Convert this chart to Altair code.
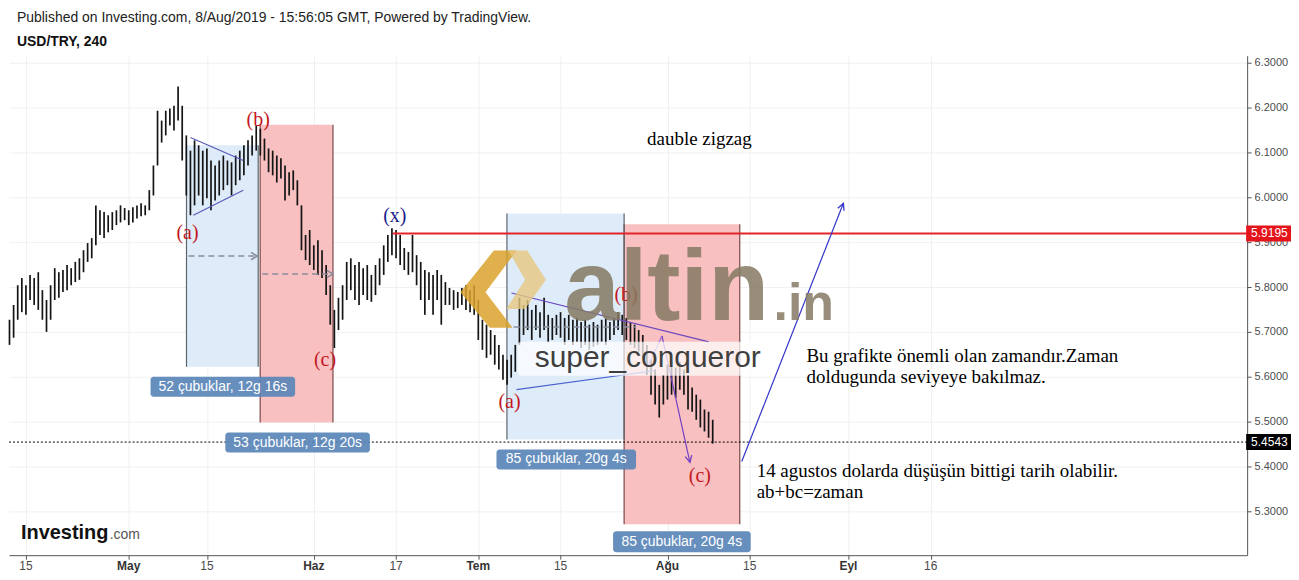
import math
import altair as alt
import pandas as pd

W, H = 1242, 501
X_DOMAIN = [-2.06, 148.48]
Y_DOMAIN = [5.2022, 6.3156]

# ---- price series (half-day sessions, trading-day axis) ----
first_session_day = -2.0
session_step = 0.5
bar_high = [5.727, 5.760, 5.804, 5.820, 5.804, 5.827, 5.820, 5.833, 5.793, 5.771,
            5.804, 5.842, 5.833, 5.838, 5.849, 5.842, 5.856, 5.864, 5.882, 5.898,
            5.909, 5.982, 5.971, 5.967, 5.960, 5.967, 5.971, 5.982, 5.976, 5.971,
            5.978, 5.982, 5.987, 5.982, 6.016, 6.071, 6.193, 6.171, 6.193, 6.198,
            6.204, 6.247, 6.204, 6.138, 6.104, 6.127, 6.116, 6.104, 6.109, 6.082,
            6.071, 6.082, 6.093, 6.082, 6.078, 6.093, 6.104, 6.116, 6.127, 6.138,
            6.160, 6.153, 6.131, 6.109, 6.104, 6.093, 6.087, 6.071, 6.056, 6.060,
            6.038, 5.982, 5.916, 5.927, 5.893, 5.904, 5.882, 5.849, 5.804, 5.749,
            5.776, 5.804, 5.856, 5.864, 5.849, 5.856, 5.842, 5.849, 5.827, 5.849,
            5.864, 5.893, 5.916, 5.931, 5.927, 5.916, 5.887, 5.878, 5.916, 5.871,
            5.856, 5.838, 5.833, 5.827, 5.838, 5.827, 5.811, 5.798, 5.793, 5.789,
            5.798, 5.804, 5.793, 5.804, 5.771, 5.727, 5.716, 5.704, 5.693, 5.671,
            5.649, 5.638, 5.649, 5.671, 5.776, 5.760, 5.771, 5.749, 5.760, 5.744,
            5.776, 5.738, 5.731, 5.738, 5.744, 5.731, 5.738, 5.727, 5.731, 5.722,
            5.727, 5.716, 5.722, 5.716, 5.727, 5.731, 5.722, 5.731, 5.744, 5.738,
            5.731, 5.722, 5.716, 5.704, 5.693, 5.671, 5.638, 5.616, 5.582, 5.604,
            5.627, 5.633, 5.620, 5.633, 5.616, 5.604, 5.576, 5.560, 5.549, 5.527,
            5.522, 5.504]
bar_low = [5.671, 5.687, 5.727, 5.744, 5.738, 5.771, 5.760, 5.749, 5.727, 5.700,
           5.727, 5.771, 5.776, 5.789, 5.793, 5.804, 5.811, 5.816, 5.833, 5.856,
           5.864, 5.893, 5.916, 5.909, 5.922, 5.927, 5.938, 5.944, 5.949, 5.938,
           5.944, 5.953, 5.958, 5.960, 5.971, 6.004, 6.071, 6.122, 6.138, 6.160,
           6.149, 6.171, 6.082, 6.004, 5.960, 5.982, 6.004, 5.982, 5.998, 5.971,
           5.993, 6.004, 6.016, 6.027, 6.004, 6.027, 6.038, 6.049, 6.071, 6.093,
           6.104, 6.093, 6.082, 6.056, 6.049, 6.033, 6.042, 5.993, 6.004, 6.016,
           5.982, 5.882, 5.860, 5.849, 5.838, 5.827, 5.820, 5.782, 5.716, 5.664,
           5.704, 5.727, 5.771, 5.793, 5.771, 5.760, 5.782, 5.771, 5.767, 5.782,
           5.804, 5.827, 5.856, 5.871, 5.864, 5.849, 5.838, 5.827, 5.833, 5.804,
           5.771, 5.738, 5.771, 5.738, 5.771, 5.716, 5.760, 5.760, 5.749, 5.753,
           5.760, 5.749, 5.744, 5.738, 5.682, 5.660, 5.642, 5.649, 5.627, 5.616,
           5.593, 5.582, 5.598, 5.611, 5.671, 5.693, 5.704, 5.682, 5.704, 5.687,
           5.704, 5.678, 5.682, 5.693, 5.687, 5.671, 5.682, 5.671, 5.678, 5.664,
           5.671, 5.660, 5.667, 5.671, 5.678, 5.671, 5.682, 5.693, 5.704, 5.693,
           5.682, 5.671, 5.664, 5.656, 5.642, 5.604, 5.560, 5.538, 5.509, 5.538,
           5.549, 5.560, 5.553, 5.571, 5.560, 5.527, 5.522, 5.504, 5.487, 5.478,
           5.464, 5.451]

# ---- axes ----
x_tick_days = [0, 12.5, 22, 35, 45, 55, 65, 78, 88, 100, 110]
x_tick_labels = ["15", "May", "15", "Haz", "17", "Tem", "15", "Ağu", "15", "Eyl", "16"]
x_tick_bold = [False, True, False, True, False, True, False, True, False, True, False]
y_tick_values = [5.3, 5.4, 5.5, 5.6, 5.7, 5.8, 5.9, 6.0, 6.1, 6.2, 6.3]

# ---- time zones (date ranges) ----
zone_x1 = [19.52, 28.48, 58.48, 72.73]
zone_x2 = [28.24, 37.33, 72.73, 86.79]
zone_lo = [5.622, 5.498, 5.460, 5.271]
zone_hi = [6.116, 6.162, 5.964, 5.940]
zone_fill = ["#dcebfa", "#f8bdbd", "#dcebfa", "#f8bdbd"]
zone_edge = ["#5d646c", "#7a4a4a", "#5d646c", "#7a4a4a"]

count_text = ["52 çubuklar, 12g 16s", "53 çubuklar, 12g 20s",
              "85 çubuklar, 20g 4s", "85 çubuklar, 20g 4s"]
count_x1 = [15.15, 24.24, 57.21, 71.39]
count_x2 = [32.73, 41.82, 74.18, 88.12]
count_hi = [5.600, 5.4756, 5.4378, 5.2556]
count_lo = [5.5556, 5.4311, 5.3933, 5.2089]

measure_x1 = [19.76, 28.73, 59.3]
measure_x2 = [28.12, 37.33, 74.2]
measure_y = [5.869, 5.829, 5.711]
measure_head = [True, True, False]

# ---- drawn lines ----
trend_x1 = [20.0, 20.36, 59.03, 59.64, 75.5, 77.33, 87.03]
trend_y1 = [6.1333, 5.960, 5.7867, 5.5711, 5.620, 5.691, 5.411]
trend_x2 = [26.42, 26.42, 83.03, 76.36, 77.33, 80.73, 99.39]
trend_y2 = [6.0822, 6.0156, 5.6778, 5.6133, 5.691, 5.409, 5.9867]
trend_color = ["#5a5ab8", "#5a5ab8", "#6a48c0", "#4a62cc", "#9a70d8", "#7440c4", "#3434c8"]
trend_head = [False, False, False, False, False, True, True]

level_price = 5.9195
level_start = 44.6
last_price = 5.4543

wave_text = ["(a)", "(b)", "(c)", "(x)", "(a)", "(b)", "(c)"]
wave_x = [19.64, 28.24, 36.36, 44.85, 58.79, 72.97, 81.94]
wave_y = [5.920, 6.173, 5.638, 5.958, 5.544, 5.782, 5.378]
wave_color = ["#c3161e", "#c3161e", "#c3161e", "#1c1c8c", "#c3161e", "#c3161e", "#c3161e"]

note_text = ["dauble zigzag",
             "Bu grafikte önemli olan zamandır.Zaman",
             "doldugunda seviyeye bakılmaz.",
             "14 agustos dolarda düşüşün bittigi tarih olabilir.",
             "ab+bc=zaman"]
note_x = [75.52, 94.9, 94.9, 88.85, 88.85]
note_y = [6.131, 5.6467, 5.600, 5.389, 5.342]

logo_x, logo_y = 57.9, 5.793
brand_x, brand_suffix_x, brand_y = 65.45, 90.9, 5.7267
author_x1, author_x2, author_lo, author_hi = 59.76, 90.9, 5.6022, 5.6778
author_tx, author_ty = 75.6, 5.642

header_line1 = "Published on Investing.com, 8/Aug/2019 - 15:56:05 GMT, Powered by TradingView."
header_line2 = "USD/TRY, 240"

SANS = "Liberation Sans"
SERIF = "Liberation Serif"

xs = alt.Scale(domain=X_DOMAIN, nice=False, zero=False)
ys = alt.Scale(domain=Y_DOMAIN, nice=False, zero=False)
PX_PER_DAY = W / (X_DOMAIN[1] - X_DOMAIN[0])
PX_PER_UNIT = H / (Y_DOMAIN[1] - Y_DOMAIN[0])

X_AXIS = alt.Axis(values=x_tick_days, labels=False, ticks=True, tickSize=4,
                  tickColor="#555", domainColor="#555", grid=True,
                  gridColor="#f0f0f0", orient="bottom", title=None)
Y_AXIS = alt.Axis(values=y_tick_values, format=".4f", orient="right",
                  labelFont=SANS, labelFontSize=11, labelColor="#4d4d4d",
                  tickSize=4, tickColor="#555", domainColor="#555",
                  grid=True, gridColor="#f0f0f0", labelPadding=3, title=None)


def X(field, **kw):
    return alt.X(field, scale=xs, axis=X_AXIS, title=None, **kw)


def Y(field, **kw):
    return alt.Y(field, scale=ys, axis=Y_AXIS, title=None, **kw)


# data frames
bars = pd.DataFrame({
    "day": [first_session_day + session_step * i for i in range(len(bar_high))],
    "hi": bar_high, "lo": bar_low})

zones = pd.DataFrame({"x1": zone_x1, "x2": zone_x2, "lo": zone_lo, "hi": zone_hi,
                      "fill": zone_fill, "edge": zone_edge})
edges = pd.DataFrame({"x": zone_x1 + zone_x2, "lo": zone_lo + zone_lo,
                      "hi": zone_hi + zone_hi, "edge": zone_edge + zone_edge})
counts = pd.DataFrame({"x1": count_x1, "x2": count_x2, "lo": count_lo, "hi": count_hi,
                       "t": count_text,
                       "xm": [(a + b) / 2 for a, b in zip(count_x1, count_x2)],
                       "ym": [(a + b) / 2 for a, b in zip(count_lo, count_hi)]})
measures = pd.DataFrame({"x1": measure_x1, "x2": measure_x2, "y": measure_y, "head": measure_head})
trends = pd.DataFrame({"x1": trend_x1, "y1": trend_y1, "x2": trend_x2, "y2": trend_y2,
                       "c": trend_color, "head": trend_head})
heads = trends[trends["head"]].copy()
heads["ang"] = [math.degrees(math.atan2((r.x2 - r.x1) * PX_PER_DAY, (r.y2 - r.y1) * PX_PER_UNIT))
                for r in heads.itertuples()]
mheads = measures[measures["head"]].copy()
mheads["ang"] = 90.0

waves = pd.DataFrame({"t": wave_text, "x": wave_x, "y": wave_y, "c": wave_color})
notes = pd.DataFrame({"t": note_text, "x": note_x, "y": note_y})
ticks = pd.DataFrame({"x": x_tick_days, "t": x_tick_labels, "b": x_tick_bold})

# ---- layers ----
zone_layer = alt.Chart(zones).mark_rect(opacity=0.95).encode(
    x=X("x1:Q"), x2="x2", y=Y("lo:Q"), y2="hi", fill=alt.Fill("fill:N", scale=None))
edge_layer = alt.Chart(edges).mark_rule(strokeWidth=1.2).encode(
    x=X("x:Q"), y=Y("lo:Q"), y2="hi", color=alt.Color("edge:N", scale=None))

candles = alt.Chart(bars).mark_rule(strokeWidth=1.7, color="#141414").encode(
    x=X("day:Q"), y=Y("lo:Q"), y2="hi")

level_line = alt.Chart(pd.DataFrame({"x1": [level_start], "x2": [X_DOMAIN[1]], "y": [level_price]})).mark_rule(
    color="#e3242b", strokeWidth=2).encode(x=X("x1:Q"), x2="x2", y=Y("y:Q"))
last_line = alt.Chart(pd.DataFrame({"x1": [X_DOMAIN[0]], "x2": [X_DOMAIN[1]], "y": [last_price]})).mark_rule(
    color="#000", strokeWidth=1, strokeDash=[2, 2]).encode(x=X("x1:Q"), x2="x2", y=Y("y:Q"))

measure_layer = alt.Chart(measures).mark_rule(color="#8a8c9c", strokeWidth=1.6, strokeDash=[6, 4]).encode(
    x=X("x1:Q"), x2="x2", y=Y("y:Q"))
measure_heads = alt.Chart(mheads).mark_point(shape="M-0.6,1L0,0L0.6,1", filled=False, size=150,
                                              color="#8a8c9c", strokeWidth=1.6, opacity=1).encode(
    x=X("x2:Q"), y=Y("y:Q"), angle=alt.Angle("ang:Q", scale=None))

trend_layer = alt.Chart(trends).mark_rule(strokeWidth=1.2).encode(
    x=X("x1:Q"), y=Y("y1:Q"), x2="x2", y2="y2", color=alt.Color("c:N", scale=None))
trend_heads = alt.Chart(heads).mark_point(shape="M-0.5,1L0,0L0.5,1", filled=False, size=180,
                                          strokeWidth=1.3, opacity=1).encode(
    x=X("x2:Q"), y=Y("y2:Q"), angle=alt.Angle("ang:Q", scale=None),
    color=alt.Color("c:N", scale=None))

wave_layer = alt.Chart(waves).mark_text(font=SERIF, fontSize=20, baseline="middle").encode(
    x=X("x:Q"), y=Y("y:Q"), text="t:N", color=alt.Color("c:N", scale=None))

# watermark
logo_outer = alt.Chart(pd.DataFrame({"x": [logo_x], "y": [logo_y]})).mark_point(
    shape="M-1,0.05L-0.2,-0.95L0.35,-0.95L-0.4,0.05L0.25,0.9L-0.3,0.9Z",
    filled=True, size=7000, color="#d9a22c", opacity=0.85, strokeWidth=0).encode(x=X("x:Q"), y=Y("y:Q"))
logo_inner = alt.Chart(pd.DataFrame({"x": [logo_x], "y": [logo_y]})).mark_point(
    shape="M0.15,-0.95L0.6,-0.95L1.05,-0.25L0.55,0.45L0.1,0.45L0.55,-0.25Z",
    filled=True, size=7000, color="#e6c77e", opacity=0.8, strokeWidth=0).encode(x=X("x:Q"), y=Y("y:Q"))
brand = alt.Chart(pd.DataFrame({"x": [brand_x], "y": [brand_y], "t": ["altin"]})).mark_text(
    font=SANS, fontSize=100, fontWeight="bold", align="left", baseline="alphabetic",
    color="#857a63", opacity=0.85).encode(x=X("x:Q"), y=Y("y:Q"), text="t:N")
brand_sfx = alt.Chart(pd.DataFrame({"x": [brand_suffix_x], "y": [brand_y], "t": [".in"]})).mark_text(
    font=SANS, fontSize=52, fontWeight="bold", align="left", baseline="alphabetic",
    color="#857a63", opacity=0.85).encode(x=X("x:Q"), y=Y("y:Q"), text="t:N")

author_box = alt.Chart(pd.DataFrame({"x1": [author_x1], "x2": [author_x2], "lo": [author_lo], "hi": [author_hi]})).mark_rect(
    fill="white", opacity=0.72, cornerRadius=4).encode(x=X("x1:Q"), x2="x2", y=Y("lo:Q"), y2="hi")
author_txt = alt.Chart(pd.DataFrame({"x": [author_tx], "y": [author_ty], "t": ["super_conqueror"]})).mark_text(
    font=SANS, fontSize=30, color="#3f3f3f", baseline="middle").encode(x=X("x:Q"), y=Y("y:Q"), text="t:N")

count_box = alt.Chart(counts).mark_rect(fill="#5a86b8", opacity=0.92, cornerRadius=3).encode(
    x=X("x1:Q"), x2="x2", y=Y("lo:Q"), y2="hi")
count_txt = alt.Chart(counts).mark_text(font=SANS, fontSize=14, color="white", baseline="middle").encode(
    x=X("xm:Q"), y=Y("ym:Q"), text="t:N")

note_layer = alt.Chart(notes).mark_text(font=SERIF, fontSize=19, color="#000", align="left",
                                        baseline="middle").encode(x=X("x:Q"), y=Y("y:Q"), text="t:N")

badge_df = pd.DataFrame({"y": [level_price, last_price], "t": ["5.9195", "5.4543"],
                         "f": ["#e3151a", "#000000"]})
badge_df["lo"] = badge_df["y"] - 8 / PX_PER_UNIT
badge_df["hi"] = badge_df["y"] + 8 / PX_PER_UNIT
badge_box = alt.Chart(badge_df).mark_rect().encode(
    x=alt.value(W - 1), x2=alt.value(W + 44), y=Y("lo:Q"), y2="hi",
    fill=alt.Fill("f:N", scale=None))
badge_txt = alt.Chart(badge_df).mark_text(font=SANS, fontSize=12, color="white", align="left",
                                          baseline="middle").encode(
    x=alt.value(W + 4), y=Y("y:Q"), text="t:N")

xlab_norm = alt.Chart(ticks[~ticks["b"]]).mark_text(font=SANS, fontSize=12, color="#4a4a4a",
                                                     baseline="middle").encode(
    x=X("x:Q"), y=alt.value(H + 11), text="t:N")
xlab_bold = alt.Chart(ticks[ticks["b"]]).mark_text(font=SANS, fontSize=12, fontWeight="bold",
                                                    color="#333", baseline="middle").encode(
    x=X("x:Q"), y=alt.value(H + 11), text="t:N")

head1 = alt.Chart(pd.DataFrame({"t": [header_line1]})).mark_text(
    font=SANS, fontSize=14, color="#222", align="left", baseline="middle").encode(
    x=alt.value(8), y=alt.value(-38), text="t:N")
head2 = alt.Chart(pd.DataFrame({"t": [header_line2]})).mark_text(
    font=SANS, fontSize=14, fontWeight="bold", color="#111", align="left", baseline="middle").encode(
    x=alt.value(8), y=alt.value(-14), text="t:N")

inv1 = alt.Chart(pd.DataFrame({"t": ["Investing"]})).mark_text(
    font=SANS, fontSize=20, fontWeight="bold", color="#111", align="left", baseline="alphabetic").encode(
    x=alt.value(12), y=alt.value(485), text="t:N")
inv2 = alt.Chart(pd.DataFrame({"t": [".com"]})).mark_text(
    font=SANS, fontSize=14, color="#555", align="left", baseline="alphabetic").encode(
    x=alt.value(101), y=alt.value(485), text="t:N")

chart = alt.layer(
    zone_layer, edge_layer, candles, level_line, last_line,
    measure_layer, measure_heads, trend_layer, trend_heads, wave_layer,
    logo_outer, logo_inner, brand, brand_sfx, author_box, author_txt,
    count_box, count_txt, note_layer, badge_box, badge_txt,
    xlab_norm, xlab_bold, head1, head2, inv1, inv2,
).properties(
    width=W, height=H,
    padding={"left": 0, "top": 2, "right": 0, "bottom": 0},
).configure_view(stroke=None)

chart.save("out.html", embed_options={"renderer": "svg", "actions": False})
